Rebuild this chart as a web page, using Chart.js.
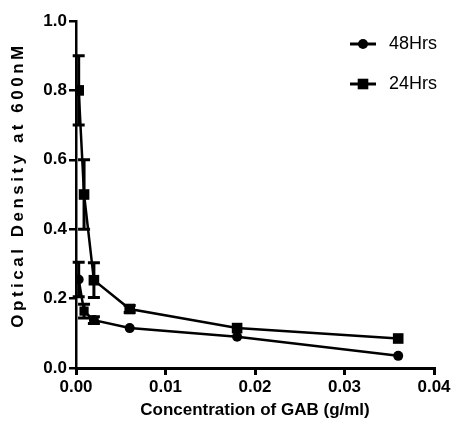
<!DOCTYPE html>
<html>
<head>
<meta charset="utf-8">
<script src="https://cdn.jsdelivr.net/npm/chart.js@4"></script>
<style>
  html, body { margin: 0; padding: 0; background: #fff; }
  #wrap { width: 455px; height: 447px; }
</style>
</head>
<body>
<div id="wrap"><canvas id="chart"></canvas></div>
<script>
// values
const concentrations = [0.0003, 0.0009, 0.002, 0.006, 0.018, 0.036];
const od48 = [0.255, 0.164, 0.138, 0.115, 0.09, 0.035];
const err48 = [0.05, 0.02, 0.01, 0, 0, 0];
const od24 = [0.8, 0.5, 0.253, 0.17, 0.115, 0.085];
const err24 = [0.1, 0.1, 0.05, 0.01, 0, 0];
const seriesNames = ["48Hrs", "24Hrs"];
const xTicks = [0, 0.01, 0.02, 0.03, 0.04];
const yTicks = [0, 0.2, 0.4, 0.6, 0.8, 1.0];

const FONT = "'Liberation Sans', Arial, sans-serif";

function toPoints(ys) {
  return concentrations.map((x, i) => ({ x: x, y: ys[i] }));
}

// error bars, drawn under the points
const errorBars = {
  id: "errorBars",
  beforeDatasetsDraw(chart) {
    const ctx = chart.ctx;
    const xs = chart.scales.x, ys = chart.scales.y;
    const errs = [err48, err24];
    ctx.save();
    ctx.strokeStyle = "#000";
    ctx.lineWidth = 3;
    chart.data.datasets.forEach((ds, d) => {
      ds.data.forEach((p, i) => {
        const e = errs[d][i];
        if (!e) return;
        const px = xs.getPixelForValue(p.x);
        const top = ys.getPixelForValue(p.y + e);
        const bot = ys.getPixelForValue(p.y - e);
        ctx.beginPath();
        ctx.moveTo(px, top); ctx.lineTo(px, bot);
        ctx.moveTo(px - 6, top); ctx.lineTo(px + 6, top);
        ctx.moveTo(px - 6, bot); ctx.lineTo(px + 6, bot);
        ctx.stroke();
      });
    });
    ctx.restore();
  }
};

// y title with wide letter spacing + legend with line-through markers
const extras = {
  id: "extras",
  afterDraw(chart) {
    const ctx = chart.ctx;
    const yTitle = "Optical Density at 600nM";
    ctx.save();
    ctx.fillStyle = "#000";
    ctx.translate(18, 185);
    ctx.rotate(-Math.PI / 2);
    ctx.font = "bold 17px " + FONT;
    const natural = ctx.measureText(yTitle).width;
    ctx.letterSpacing = ((282 - natural) / (yTitle.length - 1)).toFixed(2) + "px";
    ctx.textAlign = "center";
    ctx.textBaseline = "middle";
    ctx.fillText(yTitle, 0, 0);
    ctx.restore();

    const styles = ["circle", "rect"];
    const radii = [5, 7.5];
    ctx.save();
    seriesNames.forEach((name, i) => {
      const y = 44 + i * 40;
      ctx.strokeStyle = "#000";
      ctx.fillStyle = "#000";
      ctx.lineWidth = 3;
      ctx.beginPath();
      ctx.moveTo(350, y); ctx.lineTo(376, y);
      ctx.stroke();
      Chart.helpers.drawPoint(ctx, { pointStyle: styles[i], radius: radii[i], borderWidth: 0 }, 363, y);
      ctx.font = "18px " + FONT;
      ctx.textBaseline = "middle";
      ctx.textAlign = "left";
      ctx.fillText(name, 389, y);
    });
    ctx.restore();
  }
};

new Chart(document.getElementById("chart"), {
  type: "scatter",
  data: {
    datasets: [
      {
        label: seriesNames[0],
        data: toPoints(od48),
        showLine: true,
        borderColor: "#000",
        backgroundColor: "#000",
        borderWidth: 2.5,
        pointStyle: ["circle", "rect", "circle", "circle", "circle", "circle"],
        pointRadius: [5, 6.5, 5, 5, 5, 5],
        pointBorderWidth: 0,
        tension: 0
      },
      {
        label: seriesNames[1],
        data: toPoints(od24),
        showLine: true,
        borderColor: "#000",
        backgroundColor: "#000",
        borderWidth: 2.5,
        pointStyle: "rect",
        pointRadius: 7.5,
        pointBorderWidth: 0,
        tension: 0
      }
    ]
  },
  options: {
    responsive: true,
    maintainAspectRatio: false,
    animation: false,
    layout: { padding: { left: 0, right: 21, top: 21, bottom: 26 } },
    plugins: {
      legend: { display: false },
      tooltip: { enabled: false }
    },
    scales: {
      x: {
        type: "linear",
        min: 0,
        max: 0.04,
        afterBuildTicks(scale) { scale.ticks = xTicks.map(v => ({ value: v })); },
        afterFit(scale) { scale.height = 53; },
        border: { display: true, color: "#000", width: 3 },
        grid: { display: true, drawOnChartArea: false, drawTicks: true, tickLength: 7, color: "#000", lineWidth: 3 },
        ticks: {
          color: "#000",
          font: { family: FONT, size: 17, weight: "bold" },
          padding: 2,
          maxRotation: 0,
          callback: v => v.toFixed(2)
        },
        title: {
          display: true,
          text: "Concentration of GAB (g/ml)",
          color: "#000",
          font: { family: FONT, size: 17, weight: "bold" },
          padding: { top: 4, bottom: 0 }
        }
      },
      y: {
        type: "linear",
        min: 0,
        max: 1.0,
        afterBuildTicks(scale) { scale.ticks = yTicks.map(v => ({ value: v })); },
        afterFit(scale) { scale.width = 76; },
        border: { display: true, color: "#000", width: 2.5 },
        grid: { display: true, drawOnChartArea: false, drawTicks: true, tickLength: 7, color: "#000", lineWidth: 2.5 },
        ticks: {
          color: "#000",
          font: { family: FONT, size: 17, weight: "bold" },
          padding: 2,
          callback: v => v.toFixed(1)
        }
      }
    }
  },
  plugins: [errorBars, extras]
});
</script>
</body>
</html>
